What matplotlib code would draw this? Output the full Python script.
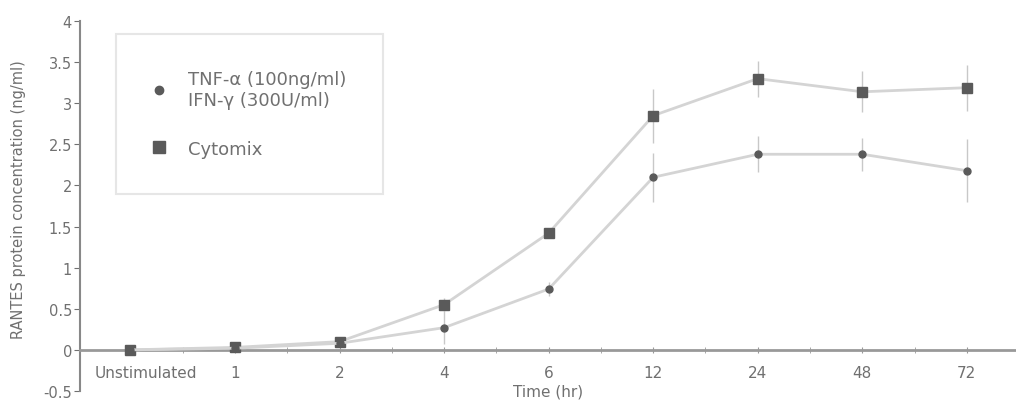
import numpy as np
import matplotlib.pyplot as plt
import matplotlib.transforms as mtransforms
from matplotlib.lines import Line2D

# categorías del eje x (tiempo)
tiempos = ['Unstimulated', '1', '2', '4', '6', '12', '24', '48', '72']

# TNF-a + IFN-g (círculos)
tnf_media = [0.0, 0.02, 0.08, 0.27, 0.74, 2.10, 2.38, 2.38, 2.18]
tnf_error = [0.02, 0.02, 0.03, 0.20, 0.08, 0.30, 0.22, 0.20, 0.38]

# Cytomix (cuadrados)
cyto_media = [0.0, 0.03, 0.10, 0.55, 1.42, 2.85, 3.30, 3.14, 3.19]
cyto_error = [0.02, 0.02, 0.03, 0.08, 0.05, 0.33, 0.22, 0.25, 0.28]

gris_texto = '#707070'
gris_linea = '#d4d4d4'
gris_marca = '#5a5a5a'

fig = plt.figure(figsize=(10.16, 4.02), dpi=100)
ax = fig.add_axes([0.079, 0.025, 0.921, 0.92])

x = np.arange(len(tiempos))

ax.errorbar(x, cyto_media, yerr=cyto_error, color=gris_linea, lw=2,
            marker='s', ms=7, mfc=gris_marca, mec=gris_marca,
            ecolor='#c8c8c8', elinewidth=1, capsize=0, zorder=3)
ax.errorbar(x, tnf_media, yerr=tnf_error, color=gris_linea, lw=2,
            marker='o', ms=5, mfc=gris_marca, mec=gris_marca,
            ecolor='#c8c8c8', elinewidth=1, capsize=0, zorder=3)

ax.set_xlim(-0.48, 8.47)
ax.set_ylim(-0.5, 4)
ax.set_yticks([-0.5, 0, 0.5, 1, 1.5, 2, 2.5, 3, 3.5, 4])
ax.set_yticklabels(['-0.5', '0', '0.5', '1', '1.5', '2', '2.5', '3', '3.5', '4'])
ax.set_xticks(x)
ax.set_xticklabels(tiempos)
ax.set_xticks(x[:-1] + 0.5, minor=True)

ax.spines['top'].set_visible(False)
ax.spines['right'].set_visible(False)
ax.spines['bottom'].set_position(('data', 0))
ax.spines['bottom'].set_color('#999999')
ax.spines['bottom'].set_linewidth(2)
ax.spines['left'].set_color('#888888')
ax.spines['left'].set_linewidth(1.5)

ax.tick_params(axis='y', colors=gris_texto, labelsize=10.5, length=4, direction='out', pad=2)
ax.tick_params(axis='x', which='both', colors='#999999', labelcolor=gris_texto,
               labelsize=11, length=4, direction='inout', pad=9)

# "Unstimulated" va algo desplazado a la derecha en el original
desplaza = mtransforms.ScaledTranslation(15 / 100, 0, fig.dpi_scale_trans)
ax.get_xticklabels()[0].set_transform(ax.get_xticklabels()[0].get_transform() + desplaza)

ax.set_ylabel('RANTES protein concentration (ng/ml)', color=gris_texto, fontsize=10.5)
ax.yaxis.set_label_coords(-0.058, 0.52)
ax.set_xlabel('Time (hr)', color=gris_texto, fontsize=11)
ax.xaxis.set_label_coords(0.5, 0.02)

# leyenda con el orden del original
h_tnf = Line2D([], [], ls='none', marker='o', ms=6, mfc=gris_marca, mec=gris_marca)
h_cyto = Line2D([], [], ls='none', marker='s', ms=8, mfc=gris_marca, mec=gris_marca)
leg = ax.legend([h_tnf, h_cyto], ['TNF-α (100ng/ml)\nIFN-γ (300U/ml)', 'Cytomix'],
                loc='upper left', bbox_to_anchor=(0.038, 0.965),
                frameon=True, fancybox=False, fontsize=13, labelcolor=gris_texto,
                borderpad=2.0, labelspacing=1.7, handlelength=0.8,
                handletextpad=1.2, borderaxespad=0)
leg.get_frame().set_edgecolor('#e0e0e0')
leg.get_frame().set_linewidth(1.5)

fig.savefig('out.png')
